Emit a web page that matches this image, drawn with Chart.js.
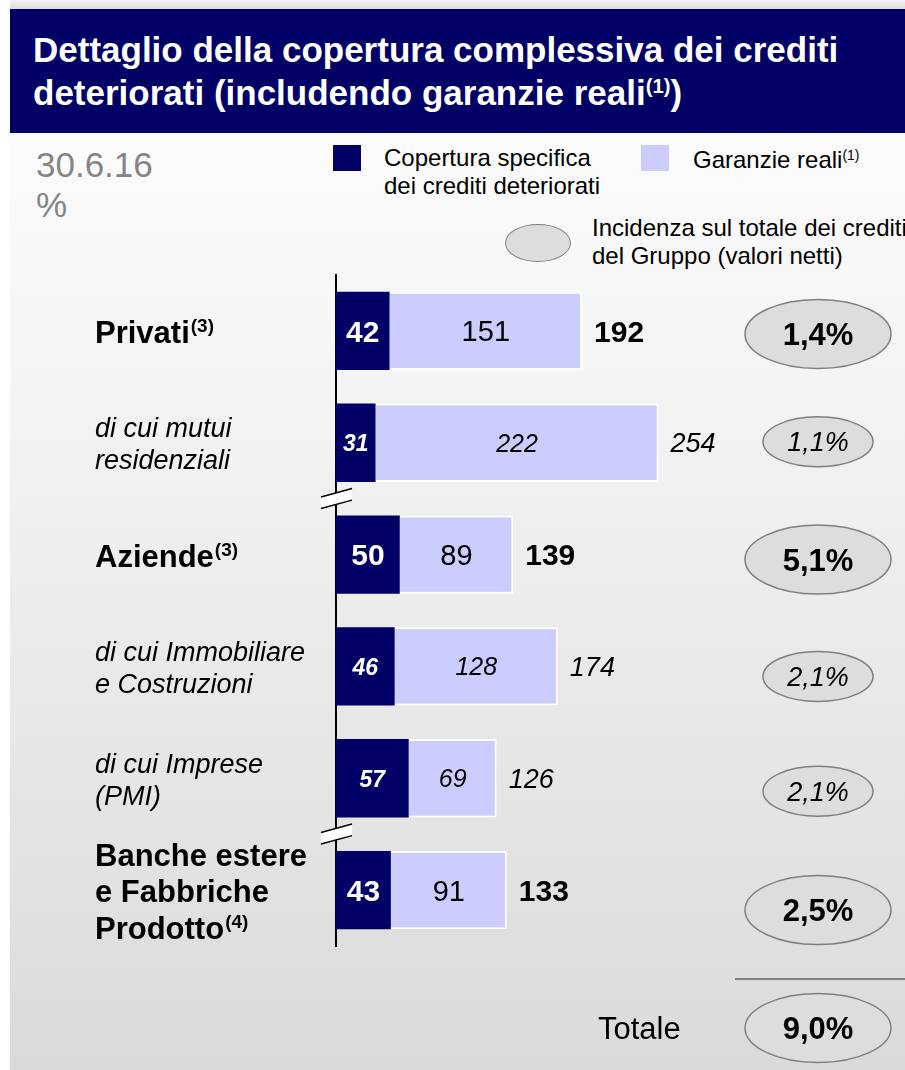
<!DOCTYPE html>
<html>
<head>
<meta charset="utf-8">
<script src="https://cdn.jsdelivr.net/npm/chart.js@4"></script>
<style>
  body { margin: 0; width: 905px; height: 1070px; background: #fff; position: relative; overflow: hidden;
         font-family: "Liberation Sans", Arial, sans-serif; }
  .topstrip { position: absolute; left: 10px; top: 0; width: 895px; height: 9px; background: linear-gradient(#f4f4f4, #dcdcdc); }
  .panel { position: absolute; left: 10px; top: 133px; width: 895px; height: 937px;
           background: linear-gradient(#fcfcfc, #f3f3f3 30%, #e5e5e5 70%, #dadada); }
  .title { position: absolute; left: 10px; top: 9px; width: 895px; height: 124px; background: #000066; }
  .title div { position: absolute; left: 23px; top: 19px; color: #fff; font-weight: bold; font-size: 35px; line-height: 43px; white-space: nowrap; }
  sup { font-size: 0.58em; vertical-align: 0.6em; line-height: 0; }
  .date { position: absolute; left: 36px; top: 145px; color: #858585; font-size: 35px; line-height: 40px; }
  .leg { position: absolute; font-size: 24px; line-height: 28px; color: #000; white-space: nowrap; }
  .sq { position: absolute; width: 28px; height: 26px; }
  .ell { position: absolute; left: 505px; top: 224px; width: 64px; height: 36px; border-radius: 50%;
         background: #dddddd; border: 1.5px solid #7f7f7f; }
  canvas { position: absolute; left: 0; top: 0; }
</style>
</head>
<body>
<div class="topstrip"></div>
<div class="panel"></div>
<div class="title"><div>Dettaglio della copertura complessiva dei crediti<br>deteriorati (includendo garanzie reali<sup>(1)</sup>)</div></div>
<div class="date">30.6.16<br>%</div>
<div class="sq" style="left:333px;top:145px;background:#000066"></div>
<div class="leg" style="left:384px;top:144px">Copertura specifica<br>dei crediti deteriorati</div>
<div class="sq" style="left:641px;top:145px;background:#ccccff"></div>
<div class="leg" style="left:693px;top:146px">Garanzie reali<sup>(1)</sup></div>
<div class="ell"></div>
<div class="leg" style="left:592px;top:214px">Incidenza sul totale dei crediti<br>del Gruppo (valori netti)</div>
<canvas id="chart" width="905" height="1070"></canvas>
<script>
// dati 30.6.16
const categories = ['Privati', 'di cui mutui residenziali', 'Aziende', 'di cui Immobiliare e Costruzioni', 'di cui Imprese (PMI)', 'Banche estere e Fabbriche Prodotto'];
const labelLines = [['Privati'], ['di cui mutui', 'residenziali'], ['Aziende'], ['di cui Immobiliare', 'e Costruzioni'], ['di cui Imprese', '(PMI)'], ['Banche estere', 'e Fabbriche', 'Prodotto']];
const labelNotes = ['(3)', '', '(3)', '', '', '(4)'];
const subRows = [false, true, false, true, true, false];
const copertura = [42, 31, 50, 46, 57, 43];
const garanzie = [151, 222, 89, 128, 69, 91];
const totali = [192, 254, 139, 174, 126, 133];
const incidenza = ['1,4%', '1,1%', '5,1%', '2,1%', '2,1%', '2,5%'];
const incidenzaTotale = '9,0%';
const breaksAfter = [1, 4];

// layout
const FONT = '"Liberation Sans", Arial, sans-serif';
const ellipseX = 818;
const ellipseShift = [3, -1, 5, 10, 13, 20];

function font(size, bold, italic) {
    return (italic ? 'italic ' : '') + (bold ? 'bold ' : '') + size + 'px ' + FONT;
}

function drawEllipse(ctx, cx, cy, rx, ry) {
    ctx.beginPath();
    ctx.ellipse(cx, cy, rx, ry, 0, 0, Math.PI * 2);
    ctx.fillStyle = '#dddddd';
    ctx.fill();
    ctx.lineWidth = 1.5;
    ctx.strokeStyle = '#7f7f7f';
    ctx.stroke();
}

const overlay = {
    id: 'overlay',
    afterDatasetsDraw(chart) {
        const ctx = chart.ctx;
        const y = chart.scales.y;
        const area = chart.chartArea;
        const dark = chart.getDatasetMeta(0).data;
        const light = chart.getDatasetMeta(1).data;
        ctx.save();

        // axis breaks
        breaksAfter.forEach(i => {
            const yb = (y.getPixelForValue(i) + y.getPixelForValue(i + 1)) / 2;
            const x0 = area.left - 15, x1 = area.left + 16;
            const k = 0.27, g = 5.8;
            const yAt = (x, off) => yb + off - k * (x - area.left);
            ctx.beginPath();
            ctx.moveTo(x0, yAt(x0, -g)); ctx.lineTo(x1, yAt(x1, -g));
            ctx.lineTo(x1, yAt(x1, g)); ctx.lineTo(x0, yAt(x0, g)); ctx.closePath();
            ctx.fillStyle = '#ffffff';
            ctx.fill();
            ctx.strokeStyle = '#000';
            ctx.lineWidth = 1.5;
            ctx.beginPath();
            ctx.moveTo(x0, yAt(x0, -g)); ctx.lineTo(x1, yAt(x1, -g));
            ctx.moveTo(x0, yAt(x0, g)); ctx.lineTo(x1, yAt(x1, g));
            ctx.stroke();
        });

        categories.forEach((c, i) => {
            const cy = y.getPixelForValue(i);
            const sub = subRows[i];
            const d = dark[i], l = light[i];

            // values inside bars
            ctx.textAlign = 'center';
            ctx.textBaseline = 'alphabetic';
            ctx.fillStyle = '#fff';
            let s = sub ? 23 : 30;
            ctx.font = font(s, true, sub);
            ctx.fillText(String(copertura[i]), (d.x + d.base) / 2, cy + s * 0.36);
            ctx.fillStyle = '#000';
            s = sub ? 25 : 29;
            ctx.font = font(s, false, sub);
            ctx.fillText(String(garanzie[i]), (l.x + l.base) / 2, cy + s * 0.36);

            // total
            s = sub ? 27 : 30;
            ctx.textAlign = 'left';
            ctx.font = font(s, !sub, sub);
            ctx.fillText(String(totali[i]), l.x + 12, cy + s * 0.36);

            // category label
            const sL = sub ? 27 : 31;
            const lh = sub ? 32 : 36.5;
            const lines = labelLines[i];
            lines.forEach((t, k) => {
                const ly = cy + (k - (lines.length - 1) / 2) * lh + sL * 0.36 + 1;
                ctx.font = font(sL, !sub, sub);
                ctx.fillText(t, 95, ly);
                if (k === lines.length - 1 && labelNotes[i]) {
                    const w = ctx.measureText(t).width;
                    ctx.font = font(19, true, false);
                    ctx.fillText(labelNotes[i], 95 + w + 1, ly - 11);
                }
            });

            // incidence ellipse
            const ey = cy + ellipseShift[i];
            drawEllipse(ctx, ellipseX, ey, sub ? 55 : 73, sub ? 25 : 34.5);
            ctx.fillStyle = '#000';
            ctx.textAlign = 'center';
            s = sub ? 27 : 31;
            ctx.font = font(s, !sub, sub);
            ctx.fillText(incidenza[i], ellipseX, ey + s * 0.36);
        });

        // totale
        const ty = area.bottom + 82;
        ctx.strokeStyle = '#808080';
        ctx.lineWidth = 2;
        ctx.beginPath();
        ctx.moveTo(735, area.bottom + 33); ctx.lineTo(905, area.bottom + 33);
        ctx.stroke();
        drawEllipse(ctx, ellipseX, ty, 73, 34.5);
        ctx.fillStyle = '#000';
        ctx.textAlign = 'center';
        ctx.font = font(31, true, false);
        ctx.fillText(incidenzaTotale, ellipseX, ty + 11);
        ctx.textAlign = 'left';
        ctx.font = font(31, false, false);
        ctx.fillText('Totale', 598, ty + 11);
        ctx.restore();
    }
};

new Chart(document.getElementById('chart'), {
    type: 'bar',
    data: {
        labels: categories,
        datasets: [{
            label: 'Copertura specifica dei crediti deteriorati',
            data: copertura,
            backgroundColor: '#000066',
            borderWidth: 0
        }, {
            label: 'Garanzie reali',
            data: garanzie,
            backgroundColor: '#ccccff',
            borderColor: '#ffffff',
            borderWidth: 2
        }]
    },
    options: {
        indexAxis: 'y',
        responsive: false,
        animation: false,
        devicePixelRatio: 1,
        categoryPercentage: 1,
        barPercentage: 0.7,
        layout: { padding: { left: 336, right: 59, top: 275, bottom: 124 } },
        scales: {
            x: { stacked: true, display: false, min: 0, max: 400 },
            y: {
                stacked: true,
                ticks: { display: false },
                grid: { display: false, drawTicks: false },
                border: { display: true, color: '#000', width: 2 }
            }
        },
        plugins: { legend: { display: false }, tooltip: { enabled: false } }
    },
    plugins: [overlay]
});
</script>
</body>
</html>
